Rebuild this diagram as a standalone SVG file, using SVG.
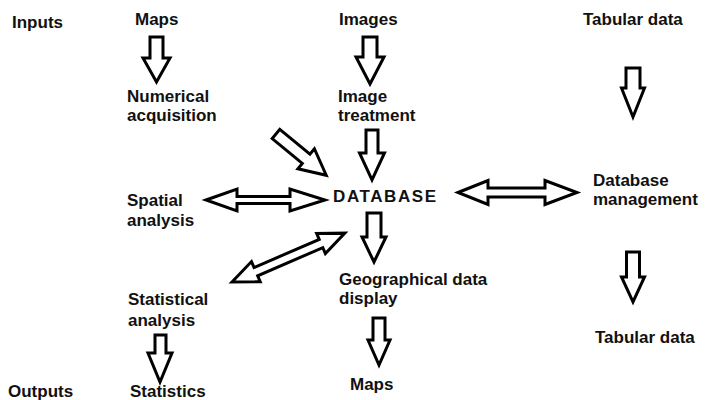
<svg xmlns="http://www.w3.org/2000/svg" width="708" height="400" viewBox="0 0 708 400">
<style>
text{font-family:"Liberation Sans",Arial,sans-serif;font-weight:bold;font-size:17px;fill:#111}
.ar{fill:#fff;stroke:#000;stroke-width:3;stroke-linejoin:miter}
</style>
<rect width="708" height="400" fill="#fff"/>
<g id="labels">
<text x="12" y="28">Inputs</text>
<text x="8" y="397">Outputs</text>
</g>
<g id="maps-in"><text x="135" y="25">Maps</text></g>
<g id="images"><text x="339" y="25">Images</text></g>
<g id="tabular-in"><text x="583" y="25">Tabular data</text></g>
<g id="numerical"><text x="127" y="102">Numerical</text><text x="127" y="121">acquisition</text></g>
<g id="image-treatment"><text x="338" y="102">Image</text><text x="338" y="121">treatment</text></g>
<g id="database"><text x="333" y="202" font-size="18" letter-spacing="1.6">DATABASE</text></g>
<g id="spatial"><text x="127" y="206">Spatial</text><text x="127" y="226">analysis</text></g>
<g id="db-management"><text x="593" y="186">Database</text><text x="593" y="205">management</text></g>
<g id="geo-display"><text x="339" y="285">Geographical data</text><text x="339" y="304">display</text></g>
<g id="statistical"><text x="128" y="305">Statistical</text><text x="128" y="326">analysis</text></g>
<g id="statistics"><text x="130" y="397">Statistics</text></g>
<g id="maps-out"><text x="350" y="390">Maps</text></g>
<g id="tabular-out"><text x="595" y="343">Tabular data</text></g>
<g id="connectors">
<polygon class="ar" points="150,37 163,37 163,58 170,58 156.5,82 143,58 150,58"/>
<polygon class="ar" points="363,37 377,37 377,57 384,57 370,84 356,57 363,57"/>
<polygon class="ar" points="366,130 378,130 378,153 384.5,153 372,180 359.5,153 366,153"/>
<polygon class="ar" points="367,213 381,213 381,237 386,237 374,262 362,237 367,237"/>
<polygon class="ar" points="373,318 385,318 385,340 390,340 379,365 368,340 373,340"/>
<polygon class="ar" points="155,335 166,335 166,353 172,353 160,382 148,353 155,353"/>
<polygon class="ar" points="626,68 640,68 640,88 644.5,88 633,117 621.5,88 626,88"/>
<polygon class="ar" points="626.5,252 639.5,252 639.5,277 644.5,277 633,302 621.5,277 626.5,277"/>
<polygon class="ar" points="206,200 237,189 237,196.5 290,196.5 290,189 325,200 290,211 290,203.5 237,203.5 237,211"/>
<polygon class="ar" points="458,192.5 488,180.5 488,188 545,188 545,180.5 577,192.5 545,204.5 545,197 488,197 488,204.5"/>
<polygon class="ar" transform="translate(232,282) rotate(-23.4)" points="0,0 26,-11 26,-4.5 97,-4.5 97,-11 123,0 97,11 97,4.5 26,4.5 26,11"/>
<polygon class="ar" transform="translate(276,134) rotate(39.4)" points="0,-6 39,-6 39,-13 65,0 39,13 39,6 0,6"/>
</g>
</svg>
